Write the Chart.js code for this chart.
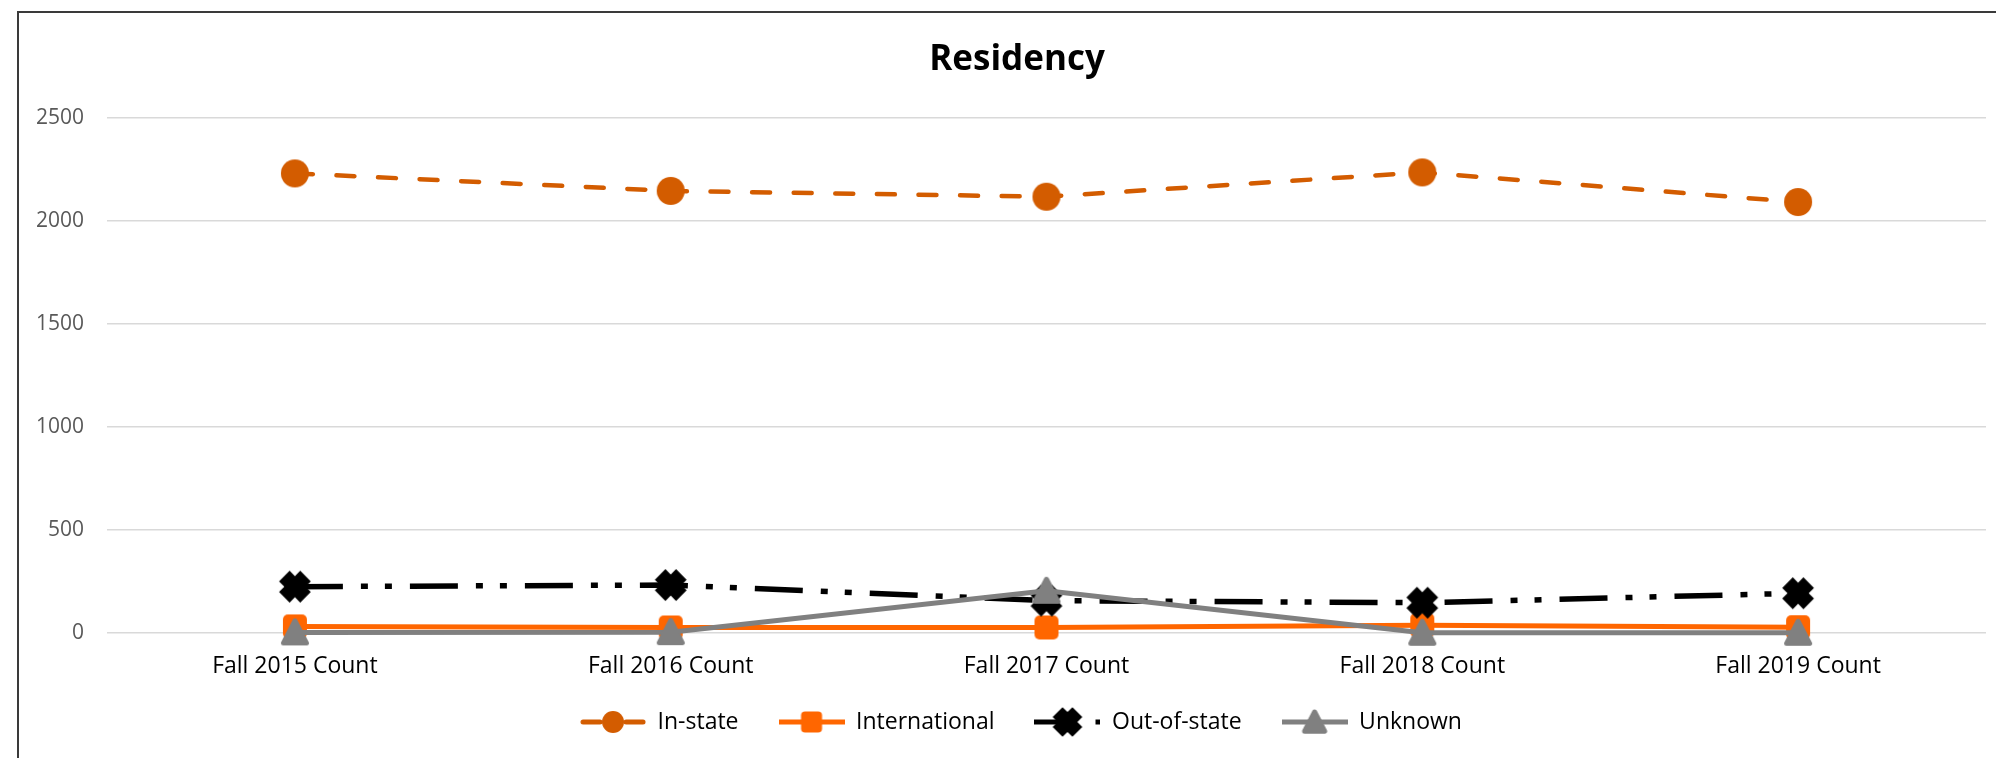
<!DOCTYPE html>
<html><head><meta charset="utf-8">
<script src="https://cdn.jsdelivr.net/npm/chart.js@4"></script>
<style>
html,body{margin:0;padding:0;background:#fff;overflow:hidden;width:1996px;height:758px;}
#frame{position:absolute;left:17px;top:11px;width:3000px;height:1000px;border-left:2px solid #3a3a3a;border-top:2px solid #3a3a3a;}
#wrap{position:absolute;left:19px;top:13px;width:1996px;height:743px;}
</style></head><body>
<div id="frame"></div>
<div id="wrap"><canvas id="c"></canvas></div>
<script>
const categories = ['Fall 2015 Count','Fall 2016 Count','Fall 2017 Count','Fall 2018 Count','Fall 2019 Count'];
const seriesNames = ['In-state','International','Out-of-state','Unknown'];
const inState = [2231, 2146, 2118, 2236, 2092];
const international = [32, 27, 27, 38, 28];
const outOfState = [225, 233, 157, 147, 193];
const unknown = [3, 4, 205, 1, 1];
const yTicks = [0, 500, 1000, 1500, 2000, 2500];

const C_IN = '#D35C00', C_INT = '#FF6600', C_OUT = '#000000', C_UNK = '#808080';
const FONT = '"Open Sans", sans-serif';

function mk(w,h){const c=document.createElement('canvas');c.width=w;c.height=h;return c;}
function circle(ctx,x,y,r,col){ctx.fillStyle=col;ctx.beginPath();ctx.arc(x,y,r,0,Math.PI*2);ctx.fill();}
function rsq(ctx,x,y,s,rad,col){ctx.fillStyle=col;ctx.beginPath();ctx.roundRect(x-s/2,y-s/2,s,s,rad);ctx.fill();}
function xmark(ctx,x,y,a,L,col){
  const p=[[a,L],[a,a],[L,a],[L,-a],[a,-a],[a,-L],[-a,-L],[-a,-a],[-L,-a],[-L,a],[-a,a],[-a,L]];
  ctx.fillStyle=col;ctx.beginPath();
  p.forEach(([px,py],i)=>{const rx=(px-py)/Math.SQRT2, ry=(px+py)/Math.SQRT2; i?ctx.lineTo(x+rx,y+ry):ctx.moveTo(x+rx,y+ry);});
  ctx.closePath();ctx.fill();
}
function tri(ctx,x,y,s,col){
  ctx.fillStyle=col;ctx.strokeStyle=col;ctx.lineWidth=5;ctx.lineJoin='round';
  ctx.beginPath();ctx.moveTo(x,y-s);ctx.lineTo(x+s,y+s*0.92);ctx.lineTo(x-s,y+s*0.92);ctx.closePath();ctx.fill();ctx.stroke();
}
function pointImg(fn){const c=mk(36,36);fn(c.getContext('2d'),18,18);return c;}
const ptIn = pointImg((g,x,y)=>circle(g,x,y,14,C_IN));
const ptInt = pointImg((g,x,y)=>rsq(g,x,y,24,5,C_INT));
const ptOut = pointImg((g,x,y)=>xmark(g,x,y,7.5,15,C_OUT));
const ptUnk = pointImg((g,x,y)=>tri(g,x,y,11.5,C_UNK));

function legImg(lineFn, markFn){const c=mk(66,32);const g=c.getContext('2d');lineFn(g);markFn(g,33,16);return c;}
function seg(g,col,w,x0,x1){g.strokeStyle=col;g.lineWidth=w;g.lineCap='butt';g.beginPath();g.moveTo(x0,16);g.lineTo(x1,16);g.stroke();}
const legIn = legImg(g=>{g.lineCap='round';g.strokeStyle=C_IN;g.lineWidth=5;g.beginPath();g.moveTo(3,16);g.lineTo(20,16);g.moveTo(46,16);g.lineTo(63,16);g.stroke();}, (g,x,y)=>circle(g,x,y,11,C_IN));
const legInt = legImg(g=>seg(g,C_INT,5,0,66), (g,x,y)=>rsq(g,x,y,21,4,C_INT));
const legOut = legImg(g=>{seg(g,C_OUT,5,0,30);g.fillStyle=C_OUT;g.fillRect(61,13.5,5,5);}, (g,x,y)=>xmark(g,x,y,7,14,C_OUT));
const legUnk = legImg(g=>seg(g,C_UNK,5,0,66), (g,x,y)=>tri(g,x,y,10,C_UNK));
const legendImgs = [legIn, legInt, legOut, legUnk];

// nudge the legend box into place after layout
const legendNudge = {
  id: 'legendNudge',
  afterLayout(chart) {
    const l = chart.legend; if (!l) return;
    l.top -= 12.5; l.bottom -= 12.5; l.left += 4; l.right += 4;
  }
};

new Chart(document.getElementById('c'), {
  type: 'line',
  plugins: [legendNudge],
  data: {
    labels: categories,
    datasets: [
      {label: seriesNames[0], data: inState, borderColor: C_IN, borderWidth: 4.5, borderDash: [18, 23.6], borderCapStyle: 'round', pointStyle: ptIn, pointRadius: 14, order: 3, clip: false},
      {label: seriesNames[1], data: international, borderColor: C_INT, borderWidth: 5, pointStyle: ptInt, pointRadius: 12, order: 2, clip: false},
      {label: seriesNames[2], data: outOfState, borderColor: C_OUT, borderWidth: 5.5, borderDash: [48, 18, 7, 17, 7, 18], borderCapStyle: 'butt', pointStyle: ptOut, pointRadius: 15, order: 1, clip: false},
      {label: seriesNames[3], data: unknown, borderColor: C_UNK, borderWidth: 5, pointStyle: ptUnk, pointRadius: 13, order: 0, clip: false}
    ]
  },
  options: {
    responsive: true, maintainAspectRatio: false, animation: false,
    events: [],
    layout: {padding: {left: 0, right: 0, top: 0, bottom: 0}},
    elements: {line: {tension: 0, fill: false}},
    plugins: {
      tooltip: {enabled: false},
      title: {display: true, text: 'Residency', color: '#000', font: {family: FONT, size: 35, weight: 'bold'}, padding: {top: 26, bottom: 37}},
      legend: {
        position: 'bottom',
        labels: {
          usePointStyle: true, pointStyleWidth: 66, padding: 40, color: '#000',
          font: {family: FONT, size: 23},
          generateLabels: (chart) => chart.data.datasets.map((ds, i) => ({
            text: ds.label, pointStyle: legendImgs[i], fillStyle: 'rgba(0,0,0,0)', strokeStyle: 'rgba(0,0,0,0)',
            lineWidth: 0, hidden: false, datasetIndex: i, fontColor: '#000'
          }))
        }
      }
    },
    scales: {
      x: {
        type: 'category', offset: true,
        grid: {display: false, drawTicks: false},
        border: {display: false},
        ticks: {color: '#000', font: {family: FONT, size: 23}, padding: 20, maxRotation: 0, autoSkip: false},
        afterFit: (s) => { s.height = 50; }
      },
      y: {
        position: 'left',
        min: 0, max: 2500,
        grid: {color: '#D9D9D9', lineWidth: 1.5, drawTicks: false},
        border: {display: false},
        ticks: {color: '#595959', font: {family: FONT, size: 21}, padding: 23, callback: (v) => String(v)},
        afterBuildTicks: (s) => { s.ticks = yTicks.map(v => ({value: v})); },
        afterFit: (s) => { s.width = 88; }
      },
      yR: {
        position: 'right', display: true,
        min: 0, max: 2500,
        grid: {display: false, drawTicks: false},
        border: {display: false},
        ticks: {display: false},
        afterFit: (s) => { s.width = 29; }
      }
    }
  }
});
</script>
</body></html>
